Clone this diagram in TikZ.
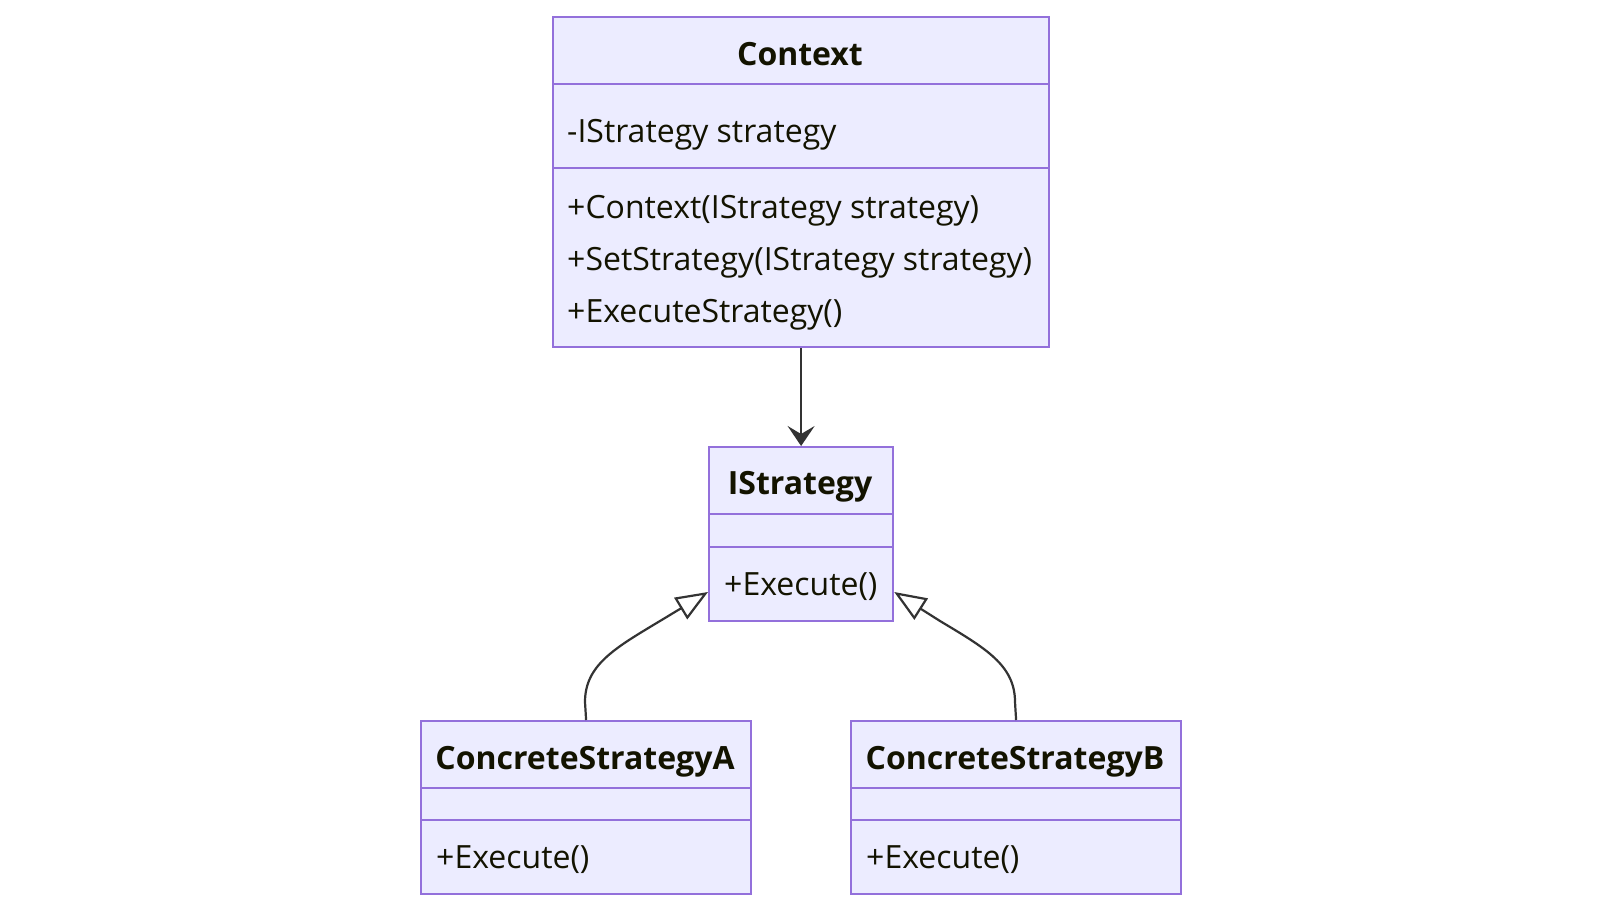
\documentclass[tikz,border=0pt]{standalone}
\usepackage{fontspec}
\setmainfont{Open Sans}
\usetikzlibrary{arrows.meta}
\definecolor{classfill}{HTML}{ECECFF}
\definecolor{classline}{HTML}{9370DB}
\definecolor{edge}{HTML}{333333}
\definecolor{ink}{HTML}{131300}
\begin{document}
\begin{tikzpicture}[x=1pt,y=-1pt,
  classbox/.style={draw=classline, fill=classfill, line width=2.2pt, inner sep=0pt,
    anchor=north west, rectangle},
  divider/.style={draw=classline, line width=2.2pt},
  title/.style={inner sep=0pt, anchor=base, text=ink,
    font=\fontsize{32}{38}\selectfont\bfseries},
  member/.style={inner sep=0pt, anchor=base west, text=ink,
    font=\fontsize{32}{38}\selectfont},
  assoc/.style={draw=edge, line width=2.2pt, -{Stealth[length=20pt, width=27pt, inset=8pt]}},
  inherit/.style={draw=edge, line width=2.2pt,
    -{Triangle[open, fill=white, length=32pt, width=25pt]}},
]
\useasboundingbox (0,0) rectangle (1600,910);

% Context
\node[classbox, minimum width=496pt, minimum height=330pt] (ctx) at (552,16) {};
\draw[divider] (ctx.west |- 0,84) -- (ctx.east |- 0,84);
\draw[divider] (ctx.west |- 0,168) -- (ctx.east |- 0,168);
\node[title] (ctxT) at (800,65) {Context};
\node[member] (ctxA) at (567,142) {-IStrategy strategy};
\node[member] (ctxM1) at (567,218) {+Context(IStrategy strategy)};
\node[member] (ctxM2) at (567,270) {+SetStrategy(IStrategy strategy)};
\node[member] (ctxM3) at (567,322) {+ExecuteStrategy()};

% IStrategy
\node[classbox, minimum width=184pt, minimum height=174pt] (istr) at (708,446) {};
\draw[divider] (istr.west |- 0,514) -- (istr.east |- 0,514);
\draw[divider] (istr.west |- 0,547) -- (istr.east |- 0,547);
\node[title] (istrT) at (800,494) {IStrategy};
\node[member] (istrM) at (724,595) {+Execute()};

% ConcreteStrategyA
\node[classbox, minimum width=330pt, minimum height=173pt] (csa) at (420,720) {};
\draw[divider] (csa.west |- 0,788) -- (csa.east |- 0,788);
\draw[divider] (csa.west |- 0,820) -- (csa.east |- 0,820);
\node[title] (csaT) at (585,769) {ConcreteStrategyA};
\node[member] (csaM) at (436,868) {+Execute()};

% ConcreteStrategyB
\node[classbox, minimum width=330pt, minimum height=173pt] (csb) at (850,720) {};
\draw[divider] (csb.west |- 0,788) -- (csb.east |- 0,788);
\draw[divider] (csb.west |- 0,820) -- (csb.east |- 0,820);
\node[title] (csbT) at (1015,769) {ConcreteStrategyB};
\node[member] (csbM) at (866,868) {+Execute()};

% connectors
\coordinate (istrL) at (istr.west |- 0,592);
\coordinate (istrR) at (istr.east |- 0,592);
\draw[assoc] (ctx.south) -- (istr.north);
\draw[inherit] (csa.north) -- (585,702) .. controls (585,665) and (615,648) .. (660,621) -- (istrL);
\draw[inherit] (csb.north) -- (1015,702) .. controls (1015,665) and (985,648) .. (940,621) -- (istrR);
\end{tikzpicture}
\end{document}
